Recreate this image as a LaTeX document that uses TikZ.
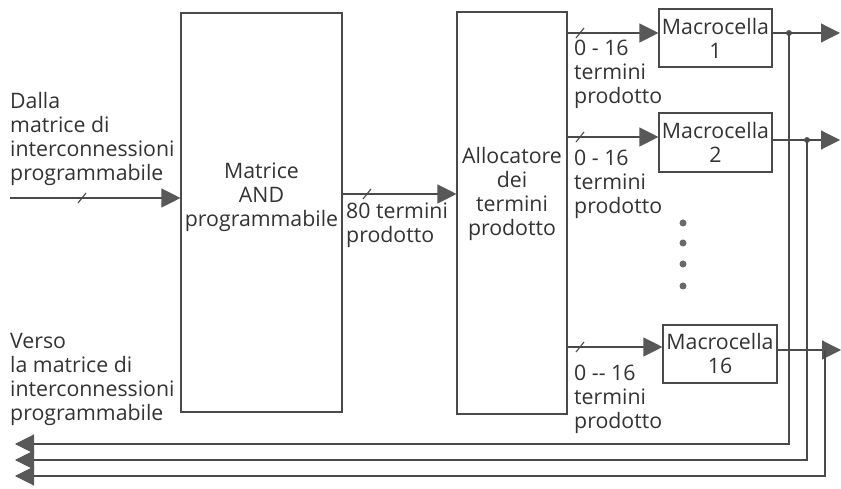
\documentclass[tikz,border=0pt]{standalone}
\usepackage{fontspec}
\setmainfont{Open Sans}
\usetikzlibrary{arrows.meta}
\definecolor{ln}{HTML}{4A4A4A}
\definecolor{tx}{HTML}{333333}
\definecolor{ah}{HTML}{585858}
\newcommand{\fs}{\fontsize{21.3}{24}\selectfont}
\tikzset{
  box/.style={draw=ln, line width=1.1pt, inner sep=0pt, align=center, text=tx, font=\fs},
  lbl/.style={inner sep=0pt, align=left, text=tx, font=\fs},
  clbl/.style={inner sep=0pt, align=center, text=tx, font=\fs},
  wire/.style={draw=ln, line width=1.1pt},
  arr/.style={wire, -{Triangle[length=19pt,width=19pt,fill=ah,color=ah]}},
  jdot/.style={circle, fill=ah, inner sep=0pt, minimum size=6pt},
  edot/.style={circle, fill=ah!90, inner sep=0pt, minimum size=7pt}
}
\begin{document}
\begin{tikzpicture}[x=1pt,y=1pt]
\useasboundingbox[fill=white] (0,0) rectangle (841,488);
% main boxes
\node[box, minimum width=161pt, minimum height=399pt] (andm) at (261.5,275.5) {};
\node[box, minimum width=110pt, minimum height=402pt] (alloc) at (512,275) {};
\node[box, minimum width=113pt, minimum height=58pt] (m1) at (715.5,450) {Macrocella\\1};
\node[box, minimum width=113pt, minimum height=59pt] (m2) at (715.5,345.5) {Macrocella\\2};
\node[box, minimum width=114pt, minimum height=58pt] (m16) at (720,134) {Macrocella\\16};
% texts
\node[lbl, anchor=north west] (tin) at (10,396) {Dalla\\matrice di\\interconnessioni\\programmabile};
\node[lbl, anchor=north west] (tout) at (10,155) {Verso\\la matrice di\\interconnessioni\\programmabile};
\node[clbl, anchor=north] (tand) at (andm.center |- 0,325) {Matrice\\AND\\programmabile};
\node[clbl, anchor=north] (tal) at (alloc.center |- 0,341) {Allocatore\\dei\\termini\\prodotto};
\node[lbl, anchor=north west] (t80) at (346,285) {80 termini\\prodotto};
\node[lbl, anchor=north west] (t1) at (574,448) {0 - 16\\termini\\prodotto};
\node[lbl, anchor=north west] (t2) at (574,338) {0 - 16\\termini\\prodotto};
\node[lbl, anchor=north west] (t16) at (574,123) {0 -{}- 16\\termini\\prodotto};
% input arrows
\coordinate (src) at (10,290);
\draw[arr] (src) -- (andm.west |- src);
\draw[wire] (78,285) -- (86,295);
\draw[arr] (andm.east |- 0,294) -- (alloc.west |- 0,294);
\draw[wire] (363,289) -- (371,299);
\draw[arr] (alloc.east |- 0,455) -- (m1.west |- 0,455);
\draw[wire] (576,450) -- (584,460);
\draw[arr] (alloc.east |- 0,351) -- (m2.west |- 0,351);
\draw[wire] (576,346) -- (584,356);
\draw[arr] (alloc.east |- 0,141) -- (m16.west |- 0,141);
\draw[wire] (576,136) -- (584,146);
% outputs
\node[jdot] (d1) at (789,455) {};
\node[jdot] (d2) at (807,348) {};
\node[jdot] (d16) at (825,138) {};
\coordinate (o1) at (840,455);
\coordinate (o2) at (840,348);
\coordinate (o16) at (841,138);
\draw[arr] (m1.east |- o1) -- (o1);
\draw[arr] (m2.east |- o2) -- (o2);
\draw[arr] (m16.east |- o16) -- (o16);
% feedback
\coordinate (f1) at (15,44);
\coordinate (f2) at (15,28);
\coordinate (f16) at (15,12);
\draw[arr] (d1.center) -- (d1.center |- f1) -- (f1);
\draw[arr] (d2.center) -- (d2.center |- f2) -- (f2);
\draw[arr] (d16.center) -- (d16.center |- f16) -- (f16);
% vertical ellipsis
\node[edot] (e1) at (683,265) {};
\node[edot] (e2) at (683,245) {};
\node[edot] (e3) at (683,224) {};
\node[edot] (e4) at (683,202) {};
\end{tikzpicture}
\end{document}
